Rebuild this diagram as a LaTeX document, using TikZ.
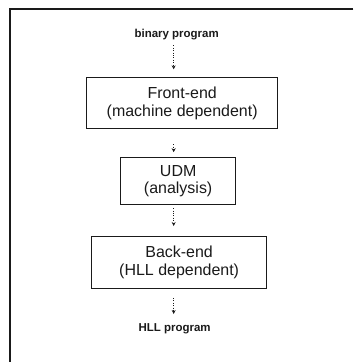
\documentclass[tikz,border=0pt]{standalone}
\usepackage{fontspec}
\setmainfont{Liberation Sans}
\usepackage{tikz}
\usetikzlibrary{positioning,arrows.meta,calc}
\definecolor{ink}{HTML}{1A1A1A}
\tikzset{
  stage/.style = {draw=ink, line width=1.1pt, align=center, inner sep=0pt,
                  font=\fontsize{16}{18}\selectfont, text=ink},
  io/.style    = {font=\fontsize{11.5}{13}\selectfont\bfseries, text=ink, inner sep=1pt},
  flow/.style  = {-{Stealth[length=4pt,width=4pt]}, draw=ink, line width=1pt,
                  dash pattern=on 1pt off 1.4pt},
}
\begin{document}
\begin{tikzpicture}[x=1pt,y=-1pt]
      \path (0,0) rectangle (354,363);
      \draw[ink,line width=1.4pt] (354,9) -- (10,9) -- (10,363);
      \node[io] (bin) at (177,35) {binary program};
      \node[stage,minimum width=191,minimum height=51] (front) at (182.5,103.5)
        {Front-end\\(machine dependent)};
      \node[stage,minimum width=115,minimum height=47] (udm) at (178.5,181.5)
        {UDM\\(analysis)};
      \node[stage,minimum width=175,minimum height=52] (back) at (179.5,263)
        {Back-end\\(HLL dependent)};
      \node[io] (hll) at (175,329) {HLL program};
      \draw[flow,shorten <=4pt,shorten >=8pt] (bin.south -| 174,0) -- (front.north -| 174,0);
      \draw[flow,shorten <=15pt,shorten >=5pt] (front.south -| 174,0) -- (udm.north -| 174,0);
      \draw[flow,shorten <=3pt,shorten >=10pt] (udm.south -| 174,0) -- (back.north -| 174,0);
      \draw[flow,shorten <=9pt,shorten >=8pt] (back.south -| 174,0) -- (hll.north -| 174,0);
\end{tikzpicture}
\end{document}
